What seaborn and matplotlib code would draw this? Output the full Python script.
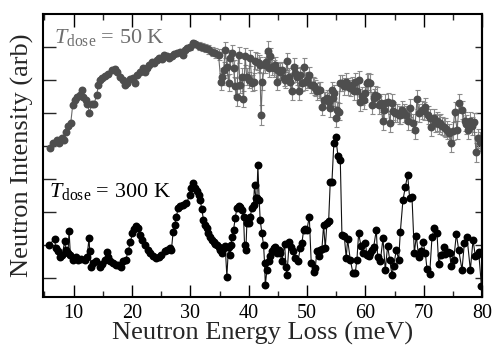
import numpy as np
import pandas as pd
import matplotlib
matplotlib.use("Agg")
import matplotlib.pyplot as plt
import seaborn as sns

# ---- data ----
black_x = [5.78, 6.75, 6.92, 7.32, 7.61, 8.07, 8.47, 8.64, 9.04, 9.21,
           9.44, 9.90, 10.47, 10.75, 11.33, 11.90, 12.30, 12.64, 12.75, 13.04,
           13.33, 13.90, 14.47, 14.93, 15.33, 15.73, 15.90, 16.19, 16.76, 17.21,
           17.61, 18.19, 18.47, 18.93, 19.33, 19.73, 20.07, 20.30, 20.76, 21.04,
           21.33, 21.79, 22.19, 22.76, 23.16, 23.62, 24.19, 24.65, 25.05, 25.62,
           26.02, 26.48, 26.76, 27.05, 27.33, 27.62, 27.90, 28.19, 28.76, 29.34,
           29.91, 30.19, 30.54, 30.83, 31.11, 31.40, 31.68, 31.97, 32.25, 32.54,
           32.83, 33.11, 33.40, 33.68, 33.97, 34.26, 34.54, 34.83, 35.11, 35.40,
           35.69, 35.97, 36.26, 36.54, 36.83, 37.00, 37.11, 37.40, 37.69, 37.97,
           38.26, 38.54, 38.83, 39.12, 39.29, 39.52, 39.69, 39.97, 40.26, 40.55,
           40.83, 41.00, 41.23, 41.40, 41.57, 41.80, 41.97, 42.26, 42.55, 42.72,
           42.85, 43.12, 43.40, 43.69, 43.98, 44.26, 44.55, 44.83, 45.12, 45.40,
           45.69, 46.15, 46.38, 46.55, 46.95, 47.29, 47.52, 47.98, 48.44, 48.84,
           49.12, 49.41, 49.69, 49.98, 50.38, 50.72, 51.12, 51.41, 51.69, 51.98,
           52.27, 52.55, 52.84, 53.12, 53.41, 53.70, 53.98, 54.27, 54.60, 54.90,
           55.30, 55.70, 55.98, 56.38, 56.72, 56.95, 57.41, 57.87, 58.27, 58.55,
           58.84, 59.24, 59.58, 59.98, 60.27, 60.55, 60.84, 61.13, 61.41, 61.87,
           62.10, 62.56, 63.01, 63.41, 63.81, 64.16, 64.56, 64.84, 65.30, 65.70,
           65.99, 66.44, 66.84, 67.24, 67.59, 67.99, 68.39, 68.73, 69.13, 69.53,
           69.87, 70.28, 70.56, 71.02, 71.42, 71.82, 72.28, 72.56, 72.96, 73.42,
           73.71, 74.11, 74.45, 74.68, 75.14, 75.59, 75.99, 76.56, 76.96, 77.42,
           77.99, 78.45, 78.85, 79.14, 79.42, 79.90]
black_y = [1.00, 1.18, 0.90, 0.80, 0.63, 0.70, 1.13, 0.85, 0.75, 1.43,
           0.70, 0.55, 0.63, 0.55, 0.57, 0.53, 0.63, 1.22, 0.80, 0.34,
           0.44, 0.50, 0.34, 0.42, 0.55, 0.77, 0.63, 0.50, 0.44, 0.39,
           0.39, 0.34, 0.50, 0.55, 0.80, 1.10, 1.35, 1.47, 1.56, 1.51,
           1.30, 1.15, 1.00, 0.85, 0.75, 0.67, 0.60, 0.63, 0.70, 0.80,
           0.85, 0.90, 0.85, 1.40, 1.61, 1.86, 2.11, 2.18, 2.21, 2.26,
           2.52, 2.72, 2.87, 2.72, 2.62, 2.52, 2.36, 2.08, 1.76, 1.61,
           1.51, 1.35, 1.25, 1.15, 1.10, 1.03, 1.00, 0.95, 0.85, 0.75,
           0.90, 0.97, 0.04, 0.95, 0.70, 1.00, 1.25, 1.45, 1.81, 2.11,
           2.18, 2.14, 2.06, 1.86, 1.00, 0.85, 1.66, 1.66, 1.86, 2.11,
           2.21, 2.82, 2.41, 2.41, 3.43, 2.36, 1.76, 1.35, 1.00, 0.45,
           -0.22, 0.24, 0.50, 0.65, 0.80, 0.90, 0.95, 0.75, 0.85, 0.75,
           0.50, 1.03, 0.34, 0.09, 1.10, 0.95, 0.80, 0.60, 0.50, 0.90,
           1.05, 1.45, 1.48, 1.45, 1.86, 0.45, 0.19, 0.29, 0.83, 0.65,
           0.85, 0.87, 1.61, 0.90, 1.66, 1.71, 2.92, 2.92, 4.10, 4.27,
           3.70, 3.56, 1.30, 1.27, 0.60, 1.17, 0.55, 0.14, 0.16, 0.55,
           1.35, 0.97, 0.75, 1.05, 0.70, 0.65, 0.75, 0.85, 0.93, 1.45,
           0.63, 0.50, 1.20, 0.24, 0.97, 0.55, 0.09, 0.36, 0.85, 0.55,
           1.40, 2.36, 2.75, 3.12, 2.41, 2.44, 0.75, 1.27, 0.63, 0.80,
           1.10, 0.75, 0.26, 0.12, 1.25, 1.50, 1.35, 0.42, 0.70, 0.93,
           0.73, 0.77, 0.75, 0.36, 0.55, 1.33, 0.85, 0.24, 1.05, 1.23,
           0.24, 1.15, 0.65, 0.70, 0.77, -0.26]

gray_x = [5.96, 6.53, 7.10, 7.56, 7.96, 8.36, 8.70, 9.10, 9.50, 9.84,
          10.24, 10.64, 11.10, 11.39, 11.67, 12.13, 12.36, 12.70, 13.10, 13.50,
          13.96, 14.25, 14.53, 14.82, 15.39, 15.96, 16.53, 17.11, 17.51, 17.96,
          18.42, 18.82, 19.22, 19.68, 20.14, 20.54, 20.94, 21.39, 21.85, 22.25,
          22.54, 23.00, 23.40, 23.80, 24.25, 24.71, 25.11, 25.51, 25.97, 26.42,
          26.83, 27.23, 27.68, 28.25, 28.71, 29.11, 29.51, 29.97, 30.43, 30.83,
          31.40, 31.97, 32.54, 33.11, 33.69, 34.26, 34.83, 35.23, 35.45, 35.70,
          35.97, 36.25, 36.54, 36.83, 37.11, 37.40, 37.69, 37.97, 38.26, 38.50,
          38.83, 39.11, 39.40, 39.65, 39.97, 40.26, 40.54, 40.83, 41.10, 41.40,
          41.69, 41.90, 42.12, 42.35, 42.72, 43.00, 43.29, 43.50, 43.69, 44.00,
          44.26, 44.55, 44.83, 45.10, 45.40, 45.69, 46.00, 46.26, 46.55, 46.85,
          47.10, 47.40, 47.69, 48.00, 48.26, 48.55, 48.83, 49.12, 49.41, 49.70,
          49.98, 50.26, 50.60, 50.95, 51.12, 51.40, 51.70, 51.98, 52.26, 52.55,
          52.84, 53.12, 53.41, 53.69, 53.98, 54.26, 54.50, 54.70, 54.95, 55.20,
          55.41, 55.69, 55.98, 56.30, 56.67, 57.00, 57.41, 57.70, 58.00, 58.27,
          58.56, 58.84, 59.13, 59.40, 59.70, 60.00, 60.27, 60.44, 60.84, 61.13,
          61.40, 61.59, 61.99, 62.39, 62.70, 62.96, 63.20, 63.42, 63.87, 64.16,
          64.56, 64.80, 65.02, 65.42, 65.70, 65.99, 66.30, 66.56, 66.90, 67.30,
          67.70, 68.10, 68.45, 68.85, 69.25, 69.70, 70.00, 70.28, 70.73, 71.00,
          71.31, 71.71, 72.00, 72.28, 72.60, 72.85, 73.15, 73.42, 73.70, 73.99,
          74.39, 74.74, 75.00, 75.31, 75.71, 76.11, 76.57, 77.02, 77.30, 77.60,
          78.00, 78.30, 78.57, 78.97, 79.31, 79.71]
gray_y = [3.93, 4.08, 4.18, 4.08, 4.23, 4.18, 4.43, 4.59, 4.69, 5.24,
          5.39, 5.49, 5.55, 5.70, 5.49, 5.39, 5.27, 5.01, 5.27, 5.27,
          5.55, 5.85, 6.00, 6.05, 6.12, 6.18, 6.30, 6.32, 6.25, 6.08,
          6.00, 5.85, 5.90, 6.02, 6.05, 5.90, 6.15, 6.25, 6.35, 6.25,
          6.35, 6.45, 6.55, 6.50, 6.61, 6.66, 6.62, 6.76, 6.71, 6.66,
          6.73, 6.79, 6.81, 6.83, 6.76, 6.91, 6.96, 7.01, 7.11, 7.09,
          7.03, 7.01, 6.96, 6.93, 6.86, 6.81, 6.76, 5.95, 6.10, 6.30,
          6.91, 6.40, 5.92, 6.66, 6.81, 6.35, 5.80, 5.47, 6.76, 5.85,
          6.10, 5.42, 6.71, 6.10, 6.00, 6.66, 5.90, 5.95, 6.58, 6.55,
          6.50, 6.45, 4.94, 5.95, 6.45, 6.55, 6.89, 6.35, 6.71, 6.40,
          6.35, 6.45, 5.95, 6.30, 6.25, 6.30, 6.05, 6.00, 6.56, 6.10,
          5.95, 5.65, 6.40, 6.20, 6.10, 5.65, 6.15, 5.90, 6.40, 5.95,
          6.00, 6.15, 5.85, 5.85, 5.80, 5.75, 5.65, 5.70, 5.70, 5.19,
          5.39, 5.39, 5.44, 5.34, 5.14, 5.70, 5.45, 5.60, 4.84, 5.09,
          5.04, 5.90, 5.90, 5.80, 5.95, 5.80, 5.75, 5.85, 5.65, 5.95,
          5.65, 6.00, 5.34, 5.50, 5.39, 5.60, 5.90, 5.95, 5.90, 5.24,
          5.45, 5.55, 5.50, 5.24, 5.30, 4.74, 5.10, 5.29, 5.34, 4.69,
          5.29, 5.05, 4.99, 4.99, 4.94, 4.94, 5.10, 4.99, 4.95, 4.74,
          5.14, 4.69, 4.48, 5.41, 4.99, 5.09, 5.05, 5.19, 4.94, 4.85,
          4.58, 4.84, 4.70, 4.74, 4.65, 4.69, 4.60, 4.58, 4.55, 4.48,
          4.38, 4.10, 4.45, 5.04, 4.48, 5.29, 5.09, 4.74, 4.65, 4.48,
          4.74, 4.60, 4.71, 3.80, 4.23, 4.13]
gray_err = [0.04, 0.04, 0.04, 0.04, 0.04, 0.04, 0.04, 0.04, 0.04, 0.04,
            0.04, 0.04, 0.04, 0.04, 0.04, 0.04, 0.04, 0.04, 0.04, 0.04,
            0.04, 0.04, 0.04, 0.04, 0.04, 0.04, 0.04, 0.04, 0.04, 0.04,
            0.04, 0.04, 0.04, 0.04, 0.04, 0.04, 0.04, 0.04, 0.04, 0.04,
            0.04, 0.04, 0.04, 0.04, 0.04, 0.04, 0.04, 0.04, 0.04, 0.04,
            0.05, 0.05, 0.06, 0.06, 0.07, 0.08, 0.08, 0.09, 0.10, 0.10,
            0.11, 0.12, 0.13, 0.14, 0.15, 0.16, 0.17, 0.25, 0.25, 0.25,
            0.25, 0.25, 0.25, 0.25, 0.25, 0.25, 0.25, 0.25, 0.25, 0.25,
            0.25, 0.25, 0.25, 0.25, 0.25, 0.25, 0.25, 0.25, 0.25, 0.25,
            0.25, 0.25, 0.30, 0.25, 0.25, 0.25, 0.28, 0.25, 0.25, 0.25,
            0.25, 0.25, 0.25, 0.25, 0.25, 0.25, 0.25, 0.25, 0.25, 0.25,
            0.25, 0.25, 0.25, 0.25, 0.25, 0.25, 0.25, 0.25, 0.25, 0.25,
            0.25, 0.25, 0.25, 0.25, 0.25, 0.25, 0.25, 0.25, 0.25, 0.25,
            0.25, 0.25, 0.25, 0.25, 0.25, 0.25, 0.25, 0.25, 0.27, 0.25,
            0.25, 0.25, 0.25, 0.25, 0.25, 0.25, 0.25, 0.25, 0.25, 0.25,
            0.27, 0.27, 0.27, 0.27, 0.27, 0.27, 0.27, 0.27, 0.27, 0.27,
            0.27, 0.27, 0.27, 0.27, 0.27, 0.27, 0.27, 0.27, 0.27, 0.27,
            0.27, 0.27, 0.27, 0.27, 0.27, 0.27, 0.27, 0.27, 0.27, 0.27,
            0.27, 0.27, 0.27, 0.28, 0.27, 0.27, 0.27, 0.27, 0.27, 0.27,
            0.28, 0.28, 0.28, 0.28, 0.28, 0.28, 0.28, 0.28, 0.28, 0.28,
            0.28, 0.28, 0.28, 0.28, 0.28, 0.28, 0.28, 0.28, 0.28, 0.28,
            0.28, 0.28, 0.28, 0.28, 0.28, 0.28]

x_ticks = [10, 20, 30, 40, 50, 60, 70, 80]
y_ticks = [0, 1, 2, 3, 4, 5, 6, 7]
label_50 = "50 K"
label_300 = "300 K"

# ---- styling ----
sns.set_theme(style="ticks")
plt.rcParams["font.family"] = ["Liberation Serif", "DejaVu Serif"]
plt.rcParams["mathtext.fontset"] = "custom"
plt.rcParams["mathtext.rm"] = "Liberation Serif"
plt.rcParams["mathtext.it"] = "Liberation Serif:italic"

fig = plt.figure(figsize=(4.95, 3.47), dpi=100)
ax = fig.add_axes([0.0869, 0.144, 0.887, 0.816])

GRAY_MK = "#4e4e4e"
GRAY_LN = "#6a6a6a"
GRAY_ERR = "#8a8a8a"

ax.errorbar(gray_x, gray_y, yerr=gray_err, fmt="none", ecolor=GRAY_ERR,
            elinewidth=0.8, capsize=1.8, capthick=0.8, zorder=1)

gdf = pd.DataFrame({"x": gray_x, "y": gray_y})
sns.lineplot(data=gdf, x="x", y="y", ax=ax, sort=False, estimator=None,
             color=GRAY_LN, linewidth=0.8, marker="o", markersize=5.7,
             markerfacecolor=GRAY_MK, markeredgecolor=GRAY_MK,
             markeredgewidth=0, zorder=2)

bdf = pd.DataFrame({"x": black_x, "y": black_y})
sns.lineplot(data=bdf, x="x", y="y", ax=ax, sort=False, estimator=None,
             color="#111111", linewidth=0.8, marker="o", markersize=5.7,
             markerfacecolor="black", markeredgecolor="black",
             markeredgewidth=0, zorder=3)

ax.set_xlim(4.75, 80.0)
ax.set_ylim(-0.58, 8.0)
ax.set_xticks(x_ticks)
ax.set_xticks([5, 15, 25, 35, 45, 55, 65, 75], minor=True)
ax.set_yticks(y_ticks)
ax.set_yticklabels([])

ax.tick_params(axis="x", which="major", direction="in", length=9, width=1.0,
               top=True, bottom=True, labelsize=14.5, pad=5, colors="black")
ax.tick_params(axis="x", which="minor", direction="in", length=4.5, width=1.0,
               top=True, bottom=True)
ax.tick_params(axis="y", which="major", direction="in", length=9.5, width=1.0,
               left=True, right=False)

sec = ax.secondary_yaxis("right")
sec.set_yticks(y_ticks)
sec.set_yticklabels([])
sec.tick_params(axis="y", direction="in", length=5, width=1.0)
sec.spines["right"].set_linewidth(1.5)

for s in ax.spines.values():
    s.set_linewidth(1.5)
    s.set_color("black")

ax.set_xlabel("Neutron Energy Loss (meV)", fontsize=19, labelpad=-1)
ax.set_ylabel("Neutron Intensity (arb)", fontsize=19, labelpad=3)

ax.text(6.7, 7.12, r"$T_{\mathrm{dose}}$ = " + label_50, color="#6e6e6e",
        fontsize=16, va="baseline", ha="left")
ax.text(5.8, 2.45, r"$T_{\mathrm{dose}}$ = " + label_300, color="black",
        fontsize=16, va="baseline", ha="left")

fig.savefig("out.png", dpi=100)
